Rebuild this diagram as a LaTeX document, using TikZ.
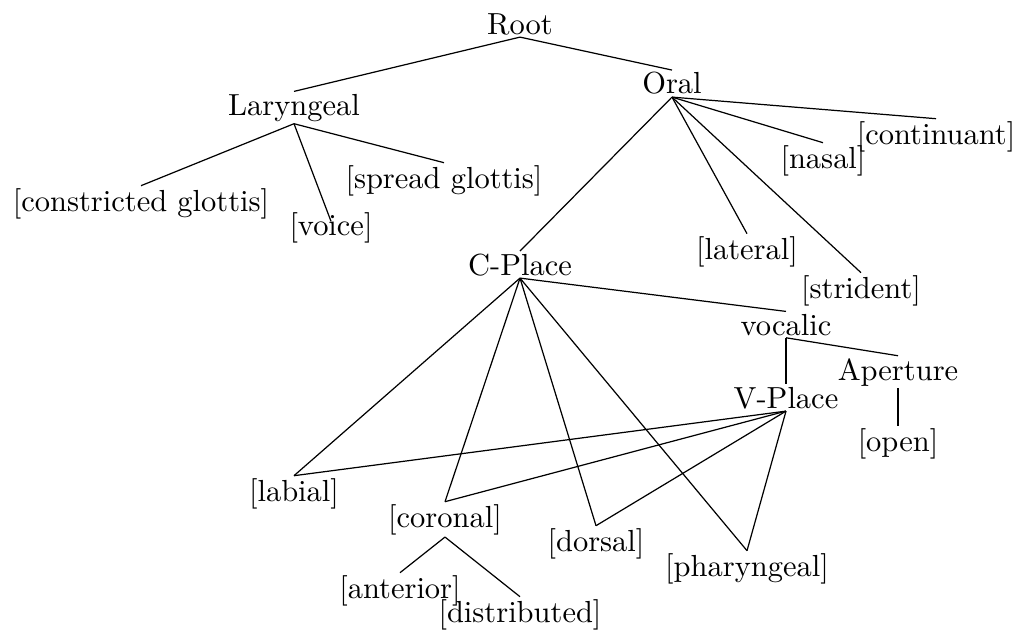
\documentclass[tikz,border=0pt]{standalone}
\begin{document}
\begin{tikzpicture}[x=0.328pt,y=-0.328pt,
  feat/.style={inner sep=0.6pt, anchor=base}]
\useasboundingbox (0,0) rectangle (1027,630);

% Text Nodes
\node[feat] (root) at (520,34) {Root};
\node[feat] (lar) at (294,115) {Laryngeal};
\node[feat] (oral) at (672,94) {Oral};
\node[feat] (cg) at (141,211) {[constricted glottis]};
\node[feat] (voice) at (331,235) {[voice]};
\node[feat] (sg) at (444,188) {[spread glottis]};
\node[feat] (cont) at (936,144) {[continuant]};
\node[feat] (nas) at (823,168) {[nasal]};
\node[feat] (lat) at (747,259) {[lateral]};
\node[feat] (str) at (861,298) {[strident]};
\node[feat] (cpl) at (520,275) {C-Place};
\node[feat] (voc) at (786,335) {vocalic};
\node[feat] (vpl) at (786,408) {V-Place};
\node[feat] (ape) at (898,380) {Aperture};
\node[feat] (open) at (898,451) {[open]};
\node[feat] (lab) at (294,501) {[labial]};
\node[feat] (cor) at (445,527) {[coronal]};
\node[feat] (dor) at (596,551) {[dorsal]};
\node[feat] (pha) at (747,576) {[pharyngeal]};
\node[feat] (ant) at (400,598) {[anterior]};
\node[feat] (dis) at (520,622) {[distributed]};

% Root
\draw (root.south) -- (lar.north);
\draw (root.south) -- (oral.north);
% Laryngeal
\draw (lar.south) -- (cg.north);
\draw (lar.south) -- ([yshift=-3.8pt]voice.north);
\draw (lar.south) -- (sg.north);
% Oral
\draw (oral.south) -- (cpl.north);
\draw (oral.south) -- (lat.north);
\draw (oral.south) -- (str.north);
\draw (oral.south) -- (nas.north);
\draw (oral.south) -- (cont.north);
% C-Place
\draw (cpl.south) -- (lab.north);
\draw (cpl.south) -- (cor.north);
\draw (cpl.south) -- (dor.north);
\draw (cpl.south) -- (pha.north);
\draw (cpl.south) -- (voc.north);
% vocalic
\draw (voc.south) -- (vpl.north);
\draw (voc.south) -- (ape.north);
\draw (ape.south) -- (open.north);
% V-Place
\draw (vpl.south) -- (lab.north);
\draw (vpl.south) -- (cor.north);
\draw (vpl.south) -- (dor.north);
\draw (vpl.south) -- (pha.north);
% coronal
\draw (cor.south) -- (ant.north);
\draw (cor.south) -- (dis.north);

\end{tikzpicture}
\end{document}
